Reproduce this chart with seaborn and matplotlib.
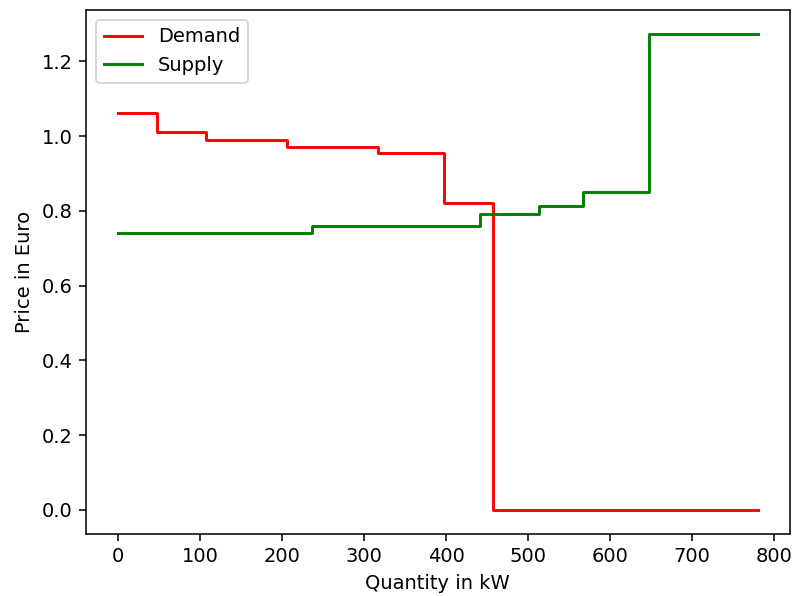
import matplotlib
matplotlib.use("Agg")
import matplotlib.pyplot as plt
import seaborn as sns
import pandas as pd

demand_qty = [0, 47, 107, 206, 317, 397, 457, 780]
demand_price = [1.062, 1.010, 0.991, 0.972, 0.954, 0.820, 0.0, 0.0]
supply_qty = [0, 237, 442, 513, 567, 648, 780]
supply_price = [0.740, 0.760, 0.791, 0.813, 0.852, 1.274, 1.274]

df_d = pd.DataFrame({"Quantity": demand_qty, "Price": demand_price})
df_s = pd.DataFrame({"Quantity": supply_qty, "Price": supply_price})

scale = 1.4
fig, ax = plt.subplots(figsize=(7.95 / scale, 5.96 / scale), dpi=100 * scale)
sns.lineplot(data=df_d, x="Quantity", y="Price", ax=ax, color="red",
             drawstyle="steps-post", label="Demand", estimator=None, sort=False)
sns.lineplot(data=df_s, x="Quantity", y="Price", ax=ax, color="green",
             drawstyle="steps-post", label="Supply", estimator=None, sort=False)
ax.set_xlabel("Quantity in kW")
ax.set_ylabel("Price in Euro")
ax.legend(loc="upper left")
fig.subplots_adjust(left=86 / 795, right=789.7 / 795, top=1 - 10 / 596, bottom=1 - 533.7 / 596)
fig.savefig("out.png", dpi=100 * scale)
